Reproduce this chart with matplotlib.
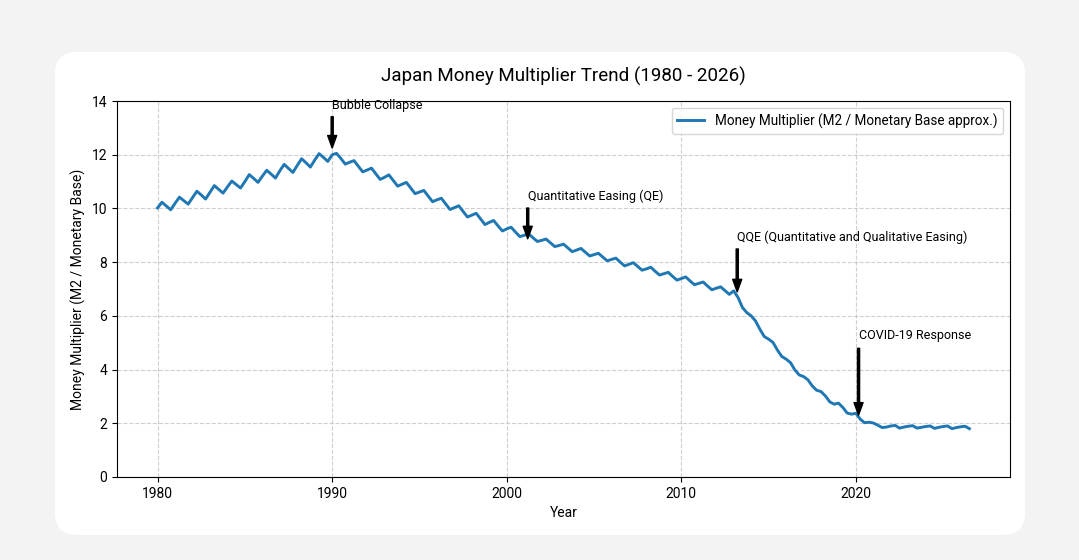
import numpy as np
import matplotlib.pyplot as plt
from matplotlib.patches import FancyBboxPatch
from matplotlib.transforms import IdentityTransform

plt.rcParams['font.family'] = ['Roboto', 'DejaVu Sans']

# quarterly readings of the money multiplier (M2 / monetary base), 1980.0 .. 2026.5
mm_1980s = [10.02, 10.23, 10.09, 9.95, 10.19, 10.42, 10.29, 10.16,
            10.40, 10.64, 10.50, 10.35, 10.60, 10.85, 10.71, 10.57,
            10.80, 11.02, 10.89, 10.76, 11.00, 11.26, 11.12, 10.97,
            11.20, 11.42, 11.28, 11.13, 11.40, 11.64, 11.49, 11.34,
            11.60, 11.85, 11.70, 11.54, 11.80, 12.04, 11.90, 11.75]
mm_1990s = [12.00, 12.05, 11.86, 11.65, 11.72, 11.78, 11.57, 11.36,
            11.43, 11.50, 11.29, 11.08, 11.16, 11.25, 11.04, 10.83,
            10.90, 10.97, 10.76, 10.55, 10.61, 10.67, 10.46, 10.25,
            10.32, 10.38, 10.17, 9.96, 10.03, 10.10, 9.89, 9.68,
            9.75, 9.82, 9.61, 9.40, 9.48, 9.55, 9.35, 9.16]
mm_2000s = [9.24, 9.30, 9.12, 8.95, 9.00, 9.05, 8.91, 8.77,
            8.81, 8.86, 8.72, 8.58, 8.62, 8.67, 8.53, 8.39,
            8.45, 8.51, 8.37, 8.23, 8.28, 8.33, 8.19, 8.05,
            8.10, 8.15, 8.00, 7.86, 7.92, 7.98, 7.84, 7.70,
            7.75, 7.81, 7.66, 7.52, 7.57, 7.62, 7.47, 7.33]
mm_2010s = [7.39, 7.45, 7.30, 7.16, 7.21, 7.26, 7.11, 6.97,
            7.03, 7.08, 6.94, 6.80, 6.93, 6.68, 6.31, 6.12,
            6.00, 5.81, 5.50, 5.23, 5.13, 5.01, 4.73, 4.49,
            4.39, 4.26, 3.99, 3.80, 3.74, 3.62, 3.39, 3.23,
            3.18, 3.02, 2.80, 2.71, 2.75, 2.59, 2.38, 2.34]
mm_2020s = [2.37, 2.15, 2.02, 2.04, 2.01, 1.93, 1.84, 1.86,
            1.90, 1.92, 1.82, 1.86, 1.89, 1.91, 1.82, 1.85,
            1.88, 1.90, 1.81, 1.85, 1.88, 1.90, 1.80, 1.84,
            1.87, 1.89, 1.80]

multiplier = mm_1980s + mm_1990s + mm_2000s + mm_2010s + mm_2020s
years = 1980 + 0.25 * np.arange(len(multiplier))

event_labels = ['Bubble Collapse', 'Quantitative Easing (QE)',
                'QQE (Quantitative and Qualitative Easing)', 'COVID-19 Response']
event_x = [1990.0, 2001.2, 2013.2, 2020.15]
event_y = [12.18, 8.80, 6.80, 2.16]
label_y = [13.7, 10.3, 8.8, 5.15]

W, H = 1079, 560
fig = plt.figure(figsize=(W / 100, H / 100), dpi=100, facecolor='#f3f3f3')

# white rounded card behind the chart
card = FancyBboxPatch((55, H - 535), 970, 483,
                      boxstyle='round,pad=0,rounding_size=22',
                      transform=IdentityTransform(),
                      facecolor='white', edgecolor='none', zorder=0)
fig.add_artist(card)

ax = fig.add_axes([117 / W, (H - 477) / H, 893 / W, 376 / H])
ax.set_facecolor('white')

ax.plot(years, multiplier, color='#1f77b4', lw=2.1, solid_joinstyle='round',
        label='Money Multiplier (M2 / Monetary Base approx.)')

for lab, x, y, ty in zip(event_labels, event_x, event_y, label_y):
    ax.annotate(lab, xy=(x, y), xytext=(x, ty), fontsize=9,
                arrowprops=dict(facecolor='black', edgecolor='black',
                                shrink=0.05, width=1.5, headwidth=6.5, headlength=9))

ax.set_ylim(0, 14)
ax.set_title('Japan Money Multiplier Trend (1980 - 2026)', fontsize=13.5, pad=14)
ax.set_xlabel('Year', fontsize=10)
ax.set_ylabel('Money Multiplier (M2 / Monetary Base)', fontsize=10)
ax.tick_params(labelsize=10)
ax.grid(True, linestyle='--', alpha=0.6)
ax.legend(loc='upper right', fontsize=9.75)

fig.savefig('out.png', dpi=100, facecolor=fig.get_facecolor())
